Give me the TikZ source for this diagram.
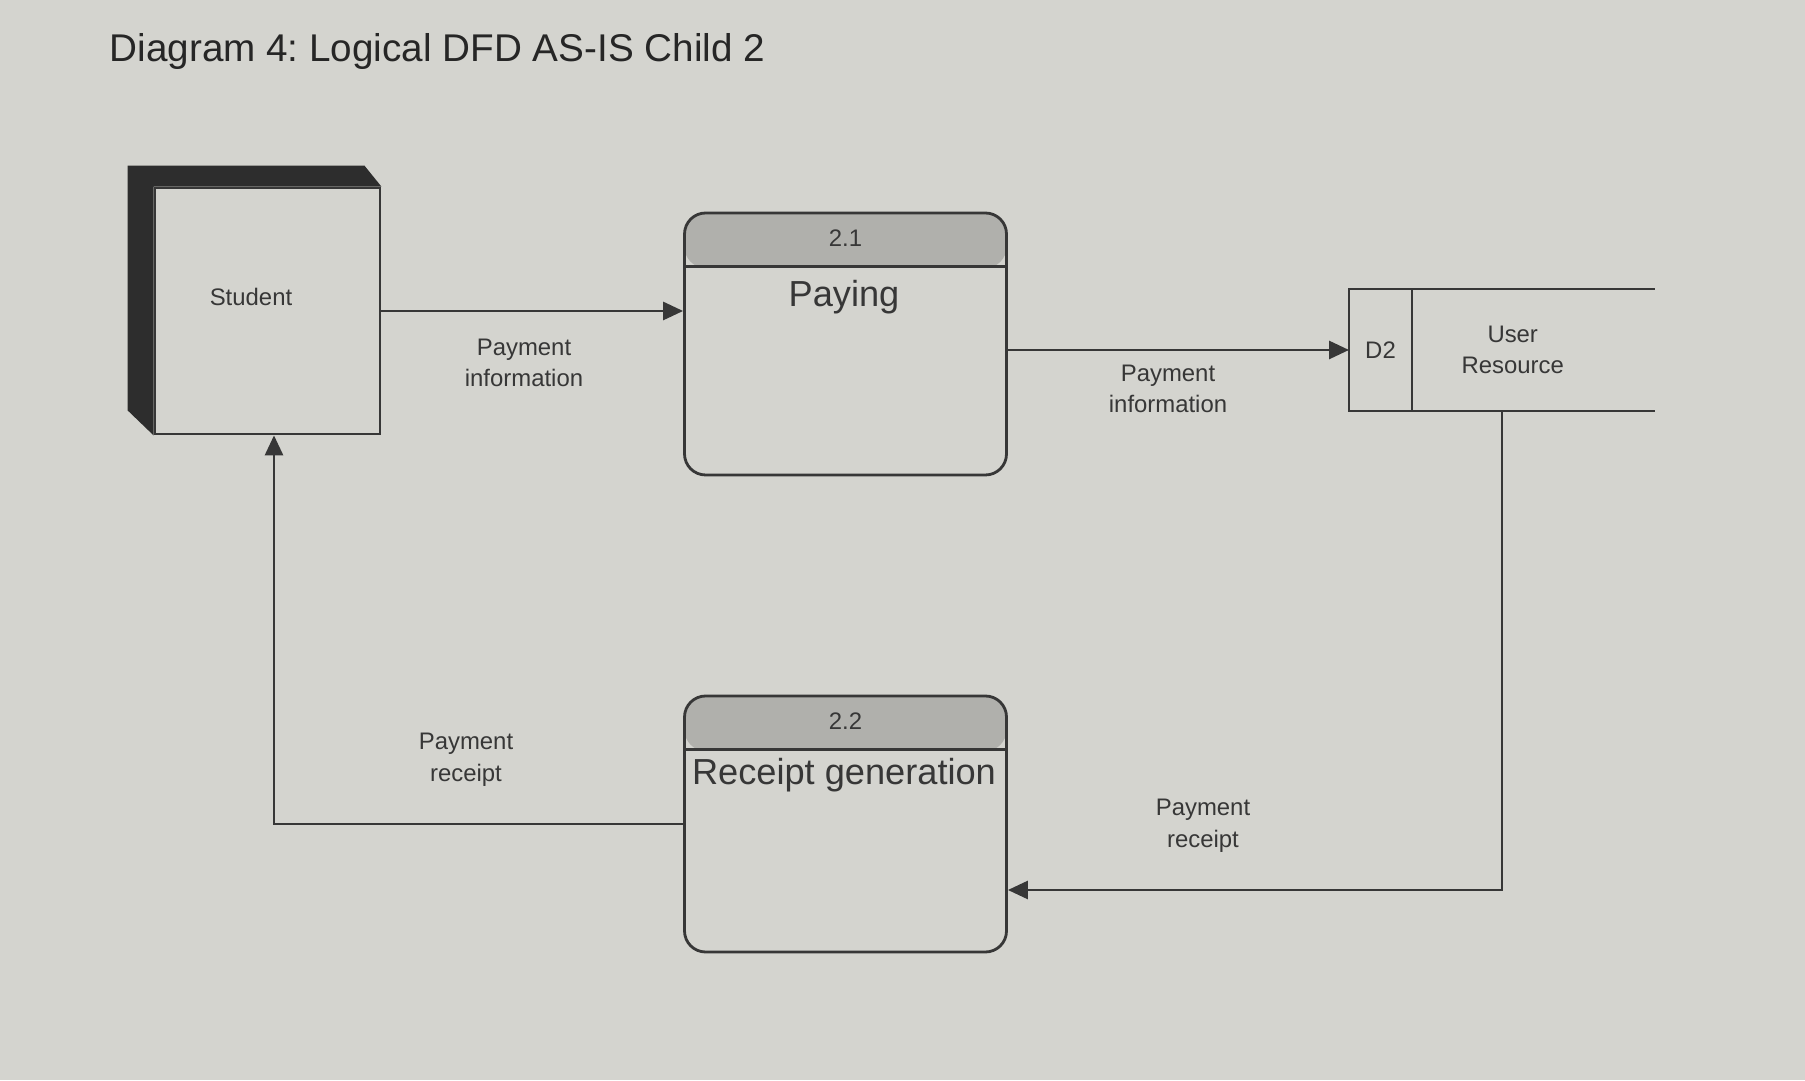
\documentclass[tikz,border=0pt]{standalone}
\usepackage{fontspec}
\setmainfont{Liberation Sans}
\usetikzlibrary{positioning,arrows.meta}
\definecolor{paper}{RGB}{212,212,207}
\definecolor{headgray}{RGB}{176,176,172}
\definecolor{inkgray}{RGB}{55,55,55}
\definecolor{bandgray}{RGB}{45,45,45}
\frenchspacing
\tikzset{
  flowarrow/.style={-{Triangle[length=2mm, width=1.8mm]}, line width=0.8pt, draw=inkgray},
  flowline/.style={line width=0.8pt, draw=inkgray},
  entity/.style={draw=inkgray, line width=0.8pt, fill=paper, minimum width=2.25cm, minimum height=2.46cm, inner sep=0pt},
  procbox/.style={draw=inkgray, line width=0.8pt, rounded corners=6pt, fill=paper, minimum width=3.22cm, minimum height=2.62cm, inner sep=0pt,
    path picture={\fill[headgray] ([yshift=-0.55cm]path picture bounding box.north west) rectangle (path picture bounding box.north east);}},
  storecell/.style={draw=inkgray, line width=0.8pt, minimum width=0.63cm, minimum height=1.22cm, inner sep=0pt, outer sep=0pt, font=\fontsize{6.8}{9}\selectfont, text=inkgray},
  flowlabel/.style={font=\fontsize{6.8}{9}\selectfont, text=inkgray, align=center, inner sep=1pt},
  procnum/.style={font=\fontsize{6.8}{8}\selectfont, text=inkgray, inner sep=0pt},
  procname/.style={font=\fontsize{10.3}{12}\selectfont, text=inkgray, inner sep=0pt}
}
\begin{document}
\begin{tikzpicture}
  \fill[paper] (0,0) rectangle (18.05,10.8);
  \useasboundingbox (0,0) rectangle (18.05,10.8);
  \node[anchor=west, font=\fontsize{11}{13}\selectfont, text=black!85, inner sep=0pt] (title) at (1.09,10.28) {Diagram 4: Logical DFD AS-IS Child 2};
  % external entity
  \node[entity] (student) at (2.675,7.69) {};
  \fill[bandgray] (student.north east) -- ++(-0.17,0.21) -- ([shift={(-0.26,0.21)}]student.north west)
    -- ([shift={(-0.26,0.25)}]student.south west) -- (student.south west) -- (student.north west) -- cycle;
  \node[flowlabel] (studentname) at (2.51,7.83) {Student};
  % processes
  \node[procbox] (pay) at (8.455,7.36) {};
  \draw[flowline] ([yshift=-0.55cm]pay.north west) -- ([yshift=-0.55cm]pay.north east);
  \node[procnum] (paynum) at ([yshift=-0.27cm]pay.north) {2.1};
  \node[procname] (payname) at (8.44,7.83) {Paying};
  \node[procbox, minimum height=2.56cm] (rcpt) at (8.455,2.56) {};
  \draw[flowline] ([yshift=-0.55cm]rcpt.north west) -- ([yshift=-0.55cm]rcpt.north east);
  \node[procnum] (rcptnum) at ([yshift=-0.27cm]rcpt.north) {2.2};
  \node[procname] (rcptname) at (8.44,3.05) {Receipt generation};
  % data store
  \node[storecell] (d2) at (13.805,7.30) {D2};
  \node[flowlabel, right=0pt of d2, minimum width=2.0cm, minimum height=1.22cm] (store) {User\\Resource};
  \draw[flowline] (d2.north east) -- ++(2.43,0);
  \draw[flowline] (d2.south east) -- ++(2.43,0);
  % flows
  \coordinate (drop) at (15.02,1.90);
  \coordinate (back) at (2.74,2.56);
  \draw[flowarrow] (student.east) -- (student.east -| pay.west);
  \draw[flowarrow] (d2.west -| pay.east) -- (d2.west);
  \draw[flowarrow] (d2.south -| drop) -- (drop) -- (drop -| rcpt.east);
  \draw[flowarrow] (rcpt.west) -- (back) -- (back |- student.south);
  \node[flowlabel] (lbl1) at (5.24,7.17) {Payment\\information};
  \node[flowlabel] (lbl2) at (11.68,6.91) {Payment\\information};
  \node[flowlabel] (lbl3) at (4.66,3.20) {Payment\\receipt};
  \node[flowlabel] (lbl4) at (12.03,2.54) {Payment\\receipt};
\end{tikzpicture}
\end{document}
